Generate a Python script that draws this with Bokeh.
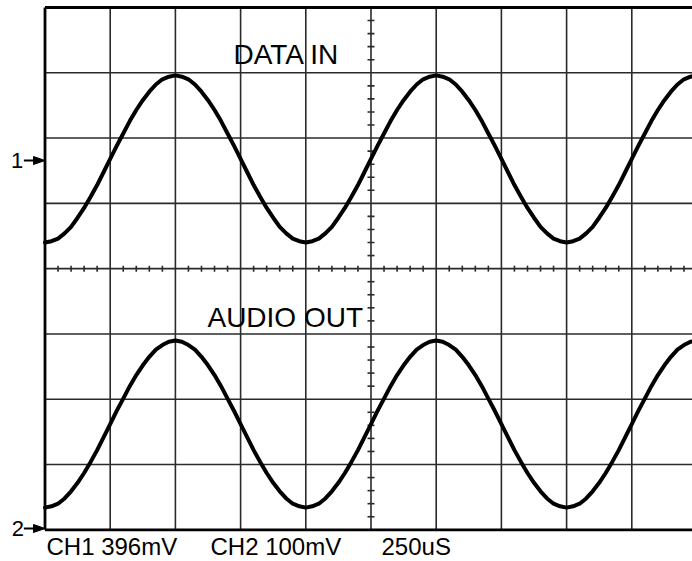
from bokeh.plotting import figure
from bokeh.models import Range1d
from bokeh.core.properties import value
from bokeh.embed import file_html
from bokeh.resources import INLINE

# ---- data (x in horizontal divisions, y in vertical divisions) ----
time_div = [round(0.1 * i, 1) for i in range(101)]

data_in = [4.40, 4.42, 4.46, 4.54, 4.64, 4.78, 4.93, 5.10, 5.28, 5.48, 5.68, 5.88, 6.07, 6.26, 6.43, 6.58, 6.71, 6.82, 6.90, 6.94, 6.96,
           6.94, 6.90, 6.82, 6.71, 6.58, 6.43, 6.26, 6.07, 5.88, 5.68, 5.48, 5.28, 5.10, 4.93, 4.78, 4.64, 4.54, 4.46, 4.42, 4.40,
           4.42, 4.46, 4.54, 4.64, 4.78, 4.93, 5.10, 5.28, 5.48, 5.68, 5.88, 6.07, 6.26, 6.43, 6.58, 6.71, 6.82, 6.90, 6.94, 6.96,
           6.94, 6.90, 6.82, 6.71, 6.58, 6.43, 6.26, 6.07, 5.88, 5.68, 5.48, 5.28, 5.10, 4.93, 4.78, 4.64, 4.54, 4.46, 4.42, 4.40,
           4.42, 4.46, 4.54, 4.64, 4.78, 4.93, 5.10, 5.28, 5.48, 5.68, 5.88, 6.07, 6.26, 6.43, 6.58, 6.71, 6.82, 6.90, 6.94, 6.96]

audio_out = [0.34, 0.36, 0.40, 0.48, 0.59, 0.72, 0.87, 1.04, 1.22, 1.42, 1.62, 1.82, 2.01, 2.20, 2.37, 2.52, 2.65, 2.76, 2.83, 2.88, 2.90,
             2.88, 2.83, 2.76, 2.65, 2.52, 2.37, 2.20, 2.01, 1.82, 1.62, 1.42, 1.22, 1.04, 0.87, 0.72, 0.59, 0.48, 0.40, 0.36, 0.34,
             0.36, 0.40, 0.48, 0.59, 0.72, 0.87, 1.04, 1.22, 1.42, 1.62, 1.82, 2.01, 2.20, 2.37, 2.52, 2.65, 2.76, 2.83, 2.88, 2.90,
             2.88, 2.83, 2.76, 2.65, 2.52, 2.37, 2.20, 2.01, 1.82, 1.62, 1.42, 1.22, 1.04, 0.87, 0.72, 0.59, 0.48, 0.40, 0.36, 0.34,
             0.36, 0.40, 0.48, 0.59, 0.72, 0.87, 1.04, 1.22, 1.42, 1.62, 1.82, 2.01, 2.20, 2.37, 2.52, 2.65, 2.76, 2.83, 2.88, 2.90]

trace_names = ["DATA IN", "AUDIO OUT"]
channel_labels = ["1", "2"]
channel_levels = [5.656, 0.02]
footer_labels = ["CH1 396mV", "CH2 100mV", "250uS"]

# ---- figure: frame fills the whole canvas, scope graticule drawn as glyphs ----
PXX = 65.2   # pixels per horizontal division
PXY = 65.29  # pixels per vertical division
p = figure(width=692, height=561, output_backend="svg", toolbar_location=None,
           x_axis_type=None, y_axis_type=None,
           x_range=Range1d(-0.6825, 9.931), y_range=Range1d(-0.4855, 8.107),
           min_border=0, min_border_left=0, min_border_right=0,
           min_border_top=0, min_border_bottom=0)
p.outline_line_color = None
p.background_fill_color = "white"
p.border_fill_color = "white"

grid_col = "#2a2a2a"
# graticule lines
vx = list(range(1, 10))
p.segment(x0=vx, y0=[0] * len(vx), x1=vx, y1=[8] * len(vx),
          line_color=grid_col, line_width=1.6)
hy = list(range(1, 8))
p.segment(x0=[0] * len(hy), y0=hy, x1=[11] * len(hy), y1=hy,
          line_color=grid_col, line_width=1.6)

# centre-axis minor ticks
tkx = 3.5 / PXX
tky = 3.0 / PXY
yt = [i * 0.2 for i in range(41) if i % 5 != 0]
p.segment(x0=[5 - tkx] * len(yt), y0=yt, x1=[5 + tkx] * len(yt), y1=yt,
          line_color=grid_col, line_width=1.6)
xt = [i * 0.2 for i in range(55) if i % 5 != 0]
p.segment(x0=xt, y0=[4 - tky] * len(xt), x1=xt, y1=[4 + tky] * len(xt),
          line_color=grid_col, line_width=1.6)

# thick borders (top, left, bottom)
p.segment(x0=[0, 0, 0], y0=[8, 0, 0], x1=[11, 0, 11], y1=[8, 8, 0],
          line_color="black", line_width=2.8)

# traces
for ys in (data_in, audio_out):
    p.line(time_div, ys, line_color="black", line_width=4,
           line_join="round", line_cap="round")

# trace titles
p.text(x=[2.891, 2.492], y=[7.280, 3.252], text=trace_names,
       text_font=value("Liberation Sans"), text_font_size="28px",
       text_baseline="alphabetic", text_align="left", text_color="black")

# channel markers: digit, short stem and filled arrow head touching the frame
p.text(x=[-0.521, -0.509], y=[5.657, 0.020], text=channel_labels,
       text_font=value("Liberation Sans"), text_font_size="22px",
       text_baseline="alphabetic", text_align="left", text_color="black")
p.segment(x0=[-0.324] * 2, y0=channel_levels, x1=[-0.16] * 2, y1=channel_levels,
          line_color="black", line_width=1.8)
head_len = 11.5 / PXX
head_half = 4.0 / PXY
p.patches(xs=[[-head_len, 0, -head_len] for _ in channel_levels],
          ys=[[lv + head_half, lv, lv - head_half] for lv in channel_levels],
          fill_color="black", line_color="black", line_width=1)

# footer settings text
p.text(x=[0.023, 2.538, 5.161], y=[-0.256] * 3, text=footer_labels,
       text_font=value("Liberation Sans"), text_font_size="24px",
       text_baseline="alphabetic", text_align="left", text_color="black")

open("out.html", "w").write(file_html(p, INLINE))
